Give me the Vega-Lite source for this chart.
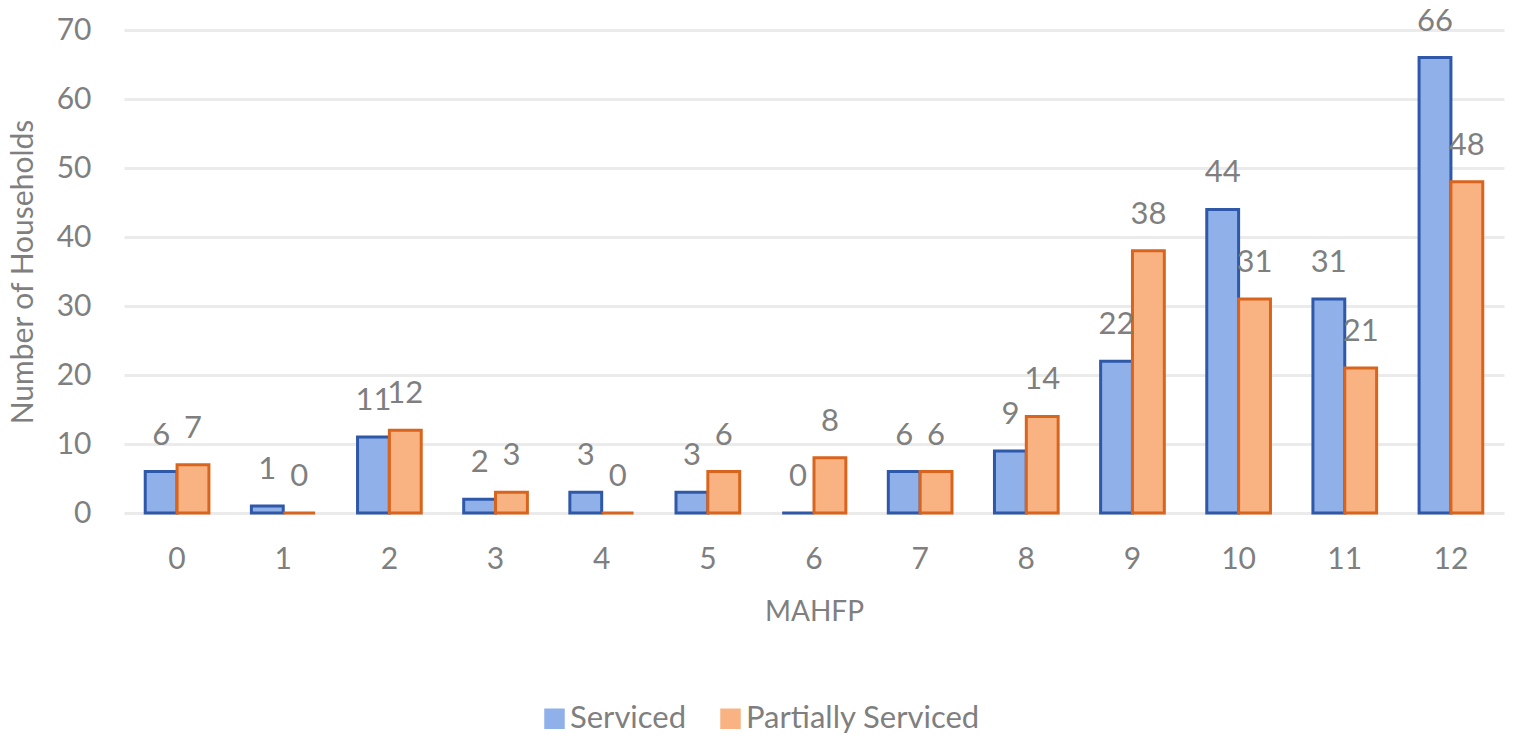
{
  "$schema": "https://vega.github.io/schema/vega-lite/v6.json",
  "autosize": "none",
  "width": 1380,
  "height": 483,
  "padding": {"left": 124, "top": 30, "right": 31, "bottom": 225},
  "background": "white",
  "data": {
    "values": [
      {"MAHFP": "0", "series": "Serviced", "value": 6},
      {"MAHFP": "0", "series": "Partially Serviced", "value": 7},
      {"MAHFP": "1", "series": "Serviced", "value": 1},
      {"MAHFP": "1", "series": "Partially Serviced", "value": 0},
      {"MAHFP": "2", "series": "Serviced", "value": 11},
      {"MAHFP": "2", "series": "Partially Serviced", "value": 12},
      {"MAHFP": "3", "series": "Serviced", "value": 2},
      {"MAHFP": "3", "series": "Partially Serviced", "value": 3},
      {"MAHFP": "4", "series": "Serviced", "value": 3},
      {"MAHFP": "4", "series": "Partially Serviced", "value": 0},
      {"MAHFP": "5", "series": "Serviced", "value": 3},
      {"MAHFP": "5", "series": "Partially Serviced", "value": 6},
      {"MAHFP": "6", "series": "Serviced", "value": 0},
      {"MAHFP": "6", "series": "Partially Serviced", "value": 8},
      {"MAHFP": "7", "series": "Serviced", "value": 6},
      {"MAHFP": "7", "series": "Partially Serviced", "value": 6},
      {"MAHFP": "8", "series": "Serviced", "value": 9},
      {"MAHFP": "8", "series": "Partially Serviced", "value": 14},
      {"MAHFP": "9", "series": "Serviced", "value": 22},
      {"MAHFP": "9", "series": "Partially Serviced", "value": 38},
      {"MAHFP": "10", "series": "Serviced", "value": 44},
      {"MAHFP": "10", "series": "Partially Serviced", "value": 31},
      {"MAHFP": "11", "series": "Serviced", "value": 31},
      {"MAHFP": "11", "series": "Partially Serviced", "value": 21},
      {"MAHFP": "12", "series": "Serviced", "value": 66},
      {"MAHFP": "12", "series": "Partially Serviced", "value": 48}
    ]
  },
  "encoding": {
    "x": {
      "field": "MAHFP",
      "type": "nominal",
      "sort": null,
      "scale": {"paddingInner": 0.4, "paddingOuter": 0.2},
      "axis": {
        "title": "MAHFP",
        "labelAngle": 0,
        "labelFont": "Lato",
        "labelFontSize": 30,
        "labelColor": "#7f7f7f",
        "labelPadding": 31,
        "titleFont": "Lato",
        "titleFontSize": 28,
        "titleFontWeight": "normal",
        "titleColor": "#7f7f7f",
        "titlePadding": 24,
        "ticks": false,
        "domain": false,
        "grid": false
      }
    },
    "xOffset": {"field": "series", "sort": ["Serviced", "Partially Serviced"]},
    "y": {
      "field": "value",
      "type": "quantitative",
      "scale": {"domain": [0, 70]},
      "axis": {
        "title": "Number of Households",
        "values": [0, 10, 20, 30, 40, 50, 60, 70],
        "labelFont": "Lato",
        "labelFontSize": 30,
        "labelColor": "#7f7f7f",
        "labelPadding": 33,
        "titleFont": "Lato",
        "titleFontSize": 30,
        "titleFontWeight": "normal",
        "titleColor": "#7f7f7f",
        "titlePadding": 18,
        "ticks": false,
        "domain": false,
        "gridColor": "#ebebeb",
        "gridWidth": 3
      }
    }
  },
  "layer": [
    {
      "mark": {"type": "rule", "color": "#ebebeb", "strokeWidth": 12},
      "encoding": {"y": {"datum": 0}, "xOffset": null}
    },
    {
      "mark": {"type": "bar", "strokeWidth": 3, "fillOpacity": 1},
      "encoding": {
        "fill": {
          "field": "series",
          "type": "nominal",
          "sort": ["Serviced", "Partially Serviced"],
          "scale": {"domain": ["Serviced", "Partially Serviced"], "range": ["#8fb0e8", "#f9b382"]},
          "legend": {
            "title": null,
            "orient": "none",
            "legendX": 415,
            "legendY": 673,
            "direction": "horizontal",
            "symbolType": "square",
            "symbolSize": 420,
            "symbolStrokeWidth": 0,
            "labelFont": "Lato",
            "labelFontSize": 31,
            "labelColor": "#7f7f7f",
            "labelOffset": 0,
            "columnPadding": 28,
            "labelLimit": 400
          }
        },
        "stroke": {
          "field": "series",
          "type": "nominal",
          "scale": {"domain": ["Serviced", "Partially Serviced"], "range": ["#2f58a8", "#d9641e"]},
          "legend": null
        }
      }
    },
    {
      "mark": {"type": "text", "baseline": "bottom", "dy": -20, "font": "Lato", "fontSize": 31, "color": "#7f7f7f"},
      "encoding": {"text": {"field": "value", "type": "quantitative"}}
    }
  ],
  "config": {"view": {"stroke": null}}
}
